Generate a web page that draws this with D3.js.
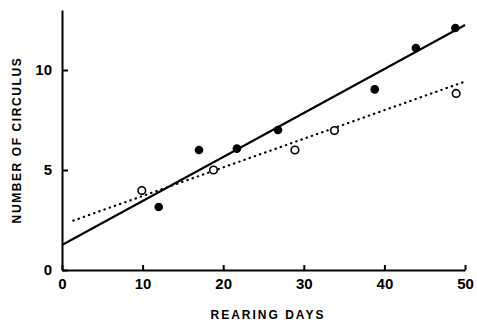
<!DOCTYPE html>
<html>
<head>
<meta charset="utf-8">
<script src="https://cdn.jsdelivr.net/npm/d3@7"></script>
<style>
  body { margin: 0; background: #fff; }
  text { font-family: "Liberation Sans", Arial, sans-serif; font-weight: bold; fill: #000; }
</style>
</head>
<body>
<div id="chart"></div>
<script>
// filled circles
const filledDays = [12, 17, 21.7, 26.8, 38.8, 43.9, 48.8];
const filledCount = [3.15, 6, 6.07, 7, 9.03, 11.1, 12.1];
// open circles
const openDays = [9.9, 18.8, 28.9, 33.8, 48.9];
const openCount = [3.97, 5, 6, 6.97, 8.83];
// regression lines (end points)
const solidLineDays = [0, 50];
const solidLineCount = [1.25, 12.25];
const dottedLineDays = [1.4, 50.2];
const dottedLineCount = [2.47, 9.45];

const xTicks = [0, 10, 20, 30, 40, 50];
const yTicks = [0, 5, 10];

const width = 477, height = 323;

const svg = d3.select("#chart")
    .append("svg")
    .attr("width", width)
    .attr("height", height);

const x = d3.scaleLinear().domain([0, 50]).range([62, 465]);
const y = d3.scaleLinear().domain([0, 13]).range([270, 10]);

const font = "'Liberation Sans', Arial, sans-serif";

// x axis
const xAxis = svg.append("g")
    .attr("transform", `translate(0,${y(0)})`)
    .call(d3.axisBottom(x).tickValues(xTicks).tickSizeInner(-5).tickSizeOuter(0).tickPadding(8));
xAxis.select(".domain").attr("stroke-width", 2);
xAxis.selectAll(".tick line").attr("stroke-width", 2);
xAxis.selectAll("text")
    .style("font-size", "15px")
    .style("font-weight", "bold")
    .style("font-family", font);

// y axis
const yAxis = svg.append("g")
    .attr("transform", `translate(${x(0)},0)`)
    .call(d3.axisLeft(y).tickValues(yTicks).tickSizeInner(-6).tickSizeOuter(0).tickPadding(10));
yAxis.select(".domain").attr("stroke-width", 2);
yAxis.selectAll(".tick line").attr("stroke-width", 2);
yAxis.selectAll("text")
    .style("font-size", "15px")
    .style("font-weight", "bold")
    .style("font-family", font);

const line = d3.line().x(d => x(d[0])).y(d => y(d[1]));

svg.append("path")
    .datum(solidLineDays.map((d, i) => [d, solidLineCount[i]]))
    .attr("d", line)
    .attr("fill", "none")
    .attr("stroke", "#000")
    .attr("stroke-width", 2);

svg.append("path")
    .datum(dottedLineDays.map((d, i) => [d, dottedLineCount[i]]))
    .attr("d", line)
    .attr("fill", "none")
    .attr("stroke", "#000")
    .attr("stroke-width", 2.2)
    .attr("stroke-linecap", "round")
    .attr("stroke-dasharray", "0.5,5");

svg.selectAll(".open")
    .data(openDays)
    .enter()
    .append("circle")
    .attr("class", "open")
    .attr("cx", d => x(d))
    .attr("cy", (d, i) => y(openCount[i]))
    .attr("r", 3.8)
    .attr("fill", "#fff")
    .attr("stroke", "#000")
    .attr("stroke-width", 1.6);

svg.selectAll(".filled")
    .data(filledDays)
    .enter()
    .append("circle")
    .attr("class", "filled")
    .attr("cx", d => x(d))
    .attr("cy", (d, i) => y(filledCount[i]))
    .attr("r", 4.3)
    .attr("fill", "#000");

svg.append("text")
    .attr("x", 268)
    .attr("y", 319)
    .attr("text-anchor", "middle")
    .style("font-size", "12px")
    .style("letter-spacing", "2px")
    .text("REARING DAYS");

svg.append("text")
    .attr("transform", `translate(21,140) rotate(-90)`)
    .attr("text-anchor", "middle")
    .style("font-size", "12px")
    .style("letter-spacing", "1.6px")
    .text("NUMBER OF CIRCULUS");
</script>
</body>
</html>
